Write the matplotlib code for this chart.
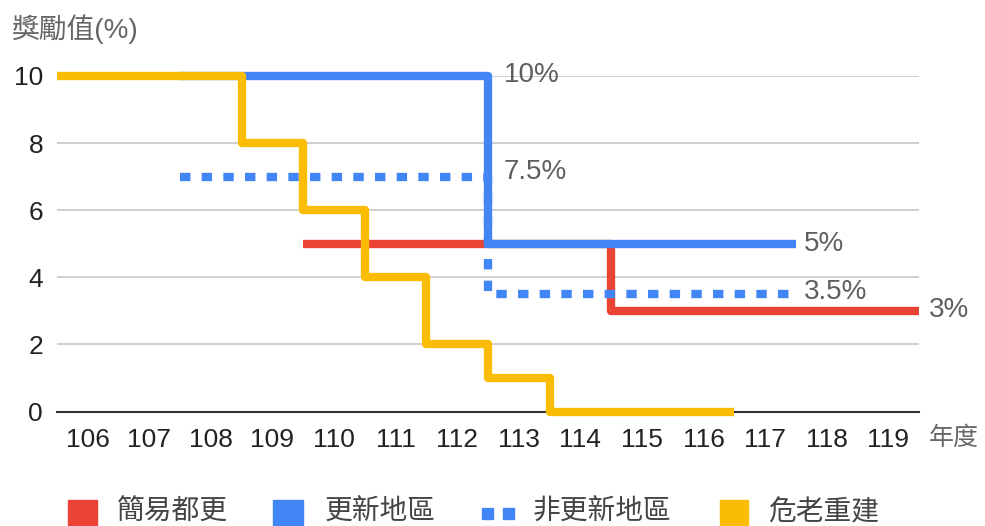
import numpy as np
import matplotlib
matplotlib.use('Agg')
import matplotlib.pyplot as plt
from matplotlib.patches import Rectangle

plt.rcParams['font.family'] = ['Liberation Sans', 'Noto Sans CJK TC', 'DejaVu Sans']

# data
simple_years = [110, 111, 112, 113, 114, 115, 116, 117, 118, 119]
simple_vals = [5, 5, 5, 5, 5, 3, 3, 3, 3, 3]

update_years = [108, 109, 110, 111, 112, 113, 114, 115, 116, 117]
update_vals = [10, 10, 10, 10, 10, 5, 5, 5, 5, 5]

nonupdate_years = [108, 109, 110, 111, 112, 113, 114, 115, 116, 117]
nonupdate_vals = [7, 7, 7, 7, 7, 3.5, 3.5, 3.5, 3.5, 3.5]

danger_years = [106, 107, 108, 109, 110, 111, 112, 113, 114, 115, 116]
danger_vals = [10, 10, 10, 8, 6, 4, 2, 1, 0, 0, 0]

year_ticks = list(range(106, 120))
names = ['簡易都更', '更新地區', '非更新地區', '危老重建']

RED = '#EA4335'
BLUE = '#4285F4'
YELLOW = '#FBBC04'
LW = 6.0

W, H = 985, 526
fig = plt.figure(figsize=(W / 100, H / 100), dpi=100)
ax = fig.add_axes([57 / W, 1 - 411.5 / H, (919 - 57) / W, 335.5 / H])


def draw_steps(years, vals, color, ls='-', z=3):
    edges = np.append(np.array(years) - 0.5, years[-1] + 0.5)
    p = ax.stairs(vals, edges, baseline=None, color=color, linewidth=LW,
                  linestyle=ls, zorder=z, clip_on=False)
    p.set_joinstyle('round')
    p.set_capstyle('butt')
    return p


draw_steps(simple_years, simple_vals, RED, z=3)
draw_steps(update_years, update_vals, BLUE, z=4)
draw_steps(nonupdate_years, nonupdate_vals, BLUE, ls=(0, (1.25, 1.35)), z=5)
draw_steps(danger_years, danger_vals, YELLOW, z=6)

# end labels
lab_color = '#5f5f5f'
def end_label(txt, x, y, dx, dy):
    ax.annotate(txt, (x, y), xytext=(dx, dy), textcoords='offset pixels',
                va='center', ha='left', fontsize=20, color=lab_color)

end_label('10%', update_years[4] + 0.5, update_vals[4], 16, 1)
end_label('7.5%', nonupdate_years[4] + 0.5, nonupdate_vals[4], 16, 5)
end_label('5%', update_years[-1] + 0.5, update_vals[-1], 8, 0)
end_label('3.5%', nonupdate_years[-1] + 0.5, nonupdate_vals[-1], 8, 2)
end_label('3%', simple_years[-1] + 0.5, simple_vals[-1], 10, 1)

ax.set_xlim(105.5, 119.5)
ax.set_ylim(0, 10)
ax.set_xticks(year_ticks)
ax.set_xticklabels([str(y) for y in year_ticks])
ax.set_yticks([0, 2, 4, 6, 8, 10])
ax.tick_params(length=0, labelsize=19, colors='#222222')
ax.tick_params(axis='x', pad=12)
ax.tick_params(axis='y', pad=10)
ax.grid(axis='y', color='#cccccc', linewidth=1.3, zorder=0)
ax.set_axisbelow(True)
for s in ['top', 'right', 'left']:
    ax.spines[s].set_visible(False)
ax.spines['bottom'].set_color('#333333')
ax.spines['bottom'].set_linewidth(1.5)

fig.text(12 / W, 1 - 29 / H, '獎勵值(%)', fontsize=20, color='#666666', va='center', ha='left')
fig.text(929 / W, 1 - 438 / H, '年度', fontsize=18, color='#666666', va='center', ha='left')

# legend drawn by hand to match the spacing
leg_y = 513
sq = 27
def fig_rect(x0, w, h, color):
    fig.patches.append(Rectangle((x0 / W, 1 - (leg_y + h / 2) / H), w / W, h / H,
                                 transform=fig.transFigure, color=color))

fig_rect(68, 29, sq, RED)
fig_rect(273, 30, sq, BLUE)
fig_rect(482, 11, 11, BLUE)
fig_rect(503, 11, 11, BLUE)
fig_rect(720, 28, sq, YELLOW)
for name, x in zip(names, [117, 325, 533, 768]):
    fig.text(x / W, 1 - leg_y / H, name, fontsize=20, color='#444444', va='center', ha='left')

fig.savefig('out.png', dpi=100)
